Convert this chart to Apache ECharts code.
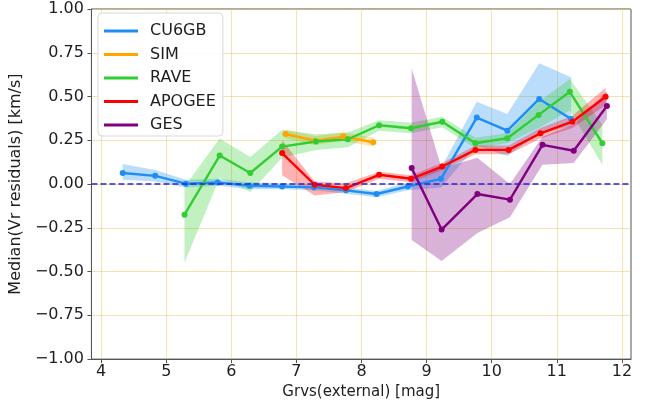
<!DOCTYPE html>
<html>
<head>
<meta charset="utf-8">
<script src="https://cdn.jsdelivr.net/npm/echarts@6/dist/echarts.min.js"></script>
<style>
html,body{margin:0;padding:0;background:#fff;}
#chart{width:647px;height:405px;}
</style>
</head>
<body>
<div id="chart"></div>
<script>
// ---- data ----
var xTicks = [4, 5, 6, 7, 8, 9, 10, 11, 12];
var yTicks = [-1, -0.75, -0.5, -0.25, 0, 0.25, 0.5, 0.75, 1];

var cuX  = [4.33, 4.83, 5.30, 5.79, 6.28, 6.78, 7.27, 7.76, 8.23, 8.71, 9.22, 9.77, 10.24, 10.73, 11.22];
var cuY  = [0.063, 0.047, 0.002, 0.009, -0.010, -0.014, -0.019, -0.036, -0.057, -0.014, 0.030, 0.380, 0.305, 0.486, 0.372];
var cuLo = [0.025, 0.015, -0.020, -0.010, -0.030, -0.030, -0.035, -0.055, -0.075, -0.035, -0.020, 0.220, 0.160, 0.290, 0.330];
var cuHi = [0.115, 0.080, 0.025, 0.030, 0.010, 0.005, 0.000, -0.020, -0.040, 0.010, 0.090, 0.470, 0.400, 0.690, 0.610];

var simX  = [6.83, 7.29, 7.72, 8.18];
var simY  = [0.286, 0.248, 0.271, 0.239];
var simLo = [0.261, 0.223, 0.246, 0.214];
var simHi = [0.311, 0.273, 0.296, 0.264];

var raveX  = [5.28, 5.82, 6.29, 6.78, 7.30, 7.79, 8.27, 8.76, 9.24, 9.75, 10.24, 10.72, 11.20, 11.70];
var raveY  = [-0.175, 0.163, 0.063, 0.214, 0.243, 0.256, 0.336, 0.319, 0.356, 0.233, 0.262, 0.395, 0.527, 0.233];
var raveLo = [-0.450, 0.035, -0.045, 0.150, 0.195, 0.210, 0.305, 0.290, 0.325, 0.205, 0.235, 0.320, 0.420, 0.110];
var raveHi = [-0.015, 0.260, 0.155, 0.310, 0.285, 0.295, 0.365, 0.350, 0.385, 0.265, 0.290, 0.470, 0.600, 0.340];

var apoX  = [6.78, 7.28, 7.76, 8.27, 8.76, 9.24, 9.75, 10.26, 10.75, 11.24, 11.75];
var apoY  = [0.177, -0.004, -0.023, 0.053, 0.030, 0.100, 0.195, 0.195, 0.290, 0.356, 0.499];
var apoLo = [0.050, -0.065, -0.045, 0.030, 0.010, 0.080, 0.170, 0.170, 0.260, 0.320, 0.450];
var apoHi = [0.250, 0.015, 0.005, 0.070, 0.050, 0.120, 0.220, 0.220, 0.320, 0.390, 0.550];

var gesX  = [8.77, 9.23, 9.78, 10.28, 10.78, 11.26, 11.77];
var gesY  = [0.091, -0.260, -0.057, -0.089, 0.224, 0.190, 0.446];
var gesLo = [-0.320, -0.440, -0.280, -0.190, 0.110, 0.120, 0.370];
var gesHi = [0.660, 0.090, 0.150, 0.000, 0.270, 0.340, 0.530];

var names  = ['CU6GB', 'SIM', 'RAVE', 'APOGEE', 'GES'];
var colors = ['#1e8ef5', '#ffa500', '#32cd32', '#ff0000', '#800080'];
var bands  = ['rgba(30,142,245,0.3)', 'rgba(255,165,0,0.3)', 'rgba(50,205,50,0.3)', 'rgba(255,0,0,0.3)', 'rgba(128,0,128,0.3)'];

var sets = [
  [cuX, cuY, cuLo, cuHi],
  [simX, simY, simLo, simHi],
  [raveX, raveY, raveLo, raveHi],
  [apoX, apoY, apoLo, apoHi],
  [gesX, gesY, gesLo, gesHi]
];

function zip2(a, b) { return a.map(function (v, i) { return [v, b[i]]; }); }

var series = [];
sets.forEach(function (s, k) {
  var xs = s[0], lo = s[2], hi = s[3];
  series.push({
    type: 'custom',
    silent: true,
    z: 1,
    data: xs.map(function (x, i) { return [x, lo[i], hi[i]]; }),
    encode: { x: 0, y: [1, 2] },
    renderItem: function (params, api) {
      if (params.dataIndex !== 0) return null;
      var pts = [];
      for (var i = 0; i < xs.length; i++) pts.push(api.coord([xs[i], hi[i]]));
      for (var j = xs.length - 1; j >= 0; j--) pts.push(api.coord([xs[j], lo[j]]));
      return { type: 'polygon', shape: { points: pts }, style: { fill: bands[k] } };
    }
  });
});
sets.forEach(function (s, k) {
  var ser = {
    type: 'line',
    name: names[k],
    z: 3,
    data: zip2(s[0], s[1]),
    symbol: 'circle',
    symbolSize: 6,
    showSymbol: true,
    itemStyle: { color: colors[k] },
    lineStyle: { color: colors[k], width: 2.4 },
    emphasis: { disabled: true },
    animation: false
  };
  if (k === 4) {
    ser.markLine = {
      silent: true,
      symbol: 'none',
      label: { show: false },
      lineStyle: { color: '#2424d8', type: [6, 3], width: 1.5 },
      data: [{ yAxis: 0 }],
      animation: false
    };
  }
  series.push(ser);
});

var gridColor = 'rgba(240,195,100,0.5)';
var axisColor = '#555';
var txtColor = '#1e1e1e';
var chart = echarts.init(document.getElementById('chart'), null, { renderer: 'canvas' });
chart.setOption({
  animation: false,
  backgroundColor: '#fff',
  textStyle: { fontFamily: 'DejaVu Sans' },
  grid: { left: 91, right: 16, top: 9, bottom: 44, show: true, borderColor: axisColor, borderWidth: 1, backgroundColor: 'transparent' },
  legend: {
    data: names.map(function (n) { return { name: n, icon: 'rect' }; }),
    orient: 'vertical',
    left: 98, top: 13,
    itemWidth: 34, itemHeight: 3,
    itemGap: 7.5,
    padding: [10, 7, 3, 6],
    backgroundColor: 'rgba(255,255,255,0.85)',
    borderColor: '#d8d8d8', borderWidth: 1, borderRadius: 4,
    textStyle: { fontFamily: 'DejaVu Sans', fontSize: 16, color: txtColor, padding: [0, 0, 0, 7] },
    selectedMode: false
  },
  xAxis: {
    type: 'value', min: 3.85, max: 12.14,
    name: 'Grvs(external) [mag]', nameLocation: 'middle', nameGap: 20,
    nameTextStyle: { fontFamily: 'DejaVu Sans', fontSize: 15, color: txtColor },
    axisLine: { show: true, onZero: false, lineStyle: { color: axisColor } },
    axisTick: { show: true, inside: false, length: 4, lineStyle: { color: axisColor }, customValues: xTicks },
    axisLabel: { fontFamily: 'DejaVu Sans', fontSize: 16, color: txtColor, margin: 5, customValues: xTicks },
    splitLine: { show: true, lineStyle: { color: gridColor, width: 1 } }
  },
  yAxis: {
    type: 'value', min: -1, max: 1, interval: 0.25,
    name: 'Median(Vr residuals) [km/s]', nameLocation: 'middle', nameGap: 59, nameRotate: 90,
    nameTextStyle: { fontFamily: 'DejaVu Sans', fontSize: 16, color: txtColor },
    axisLine: { show: true, onZero: false, lineStyle: { color: axisColor } },
    axisTick: { show: true, inside: false, length: 4, lineStyle: { color: axisColor } },
    axisLabel: {
      fontFamily: 'DejaVu Sans', fontSize: 16, color: txtColor, margin: 7.5,
      formatter: function (v) { return (v < 0 ? '\u2212' : '') + Math.abs(v).toFixed(2); }
    },
    splitLine: { show: true, lineStyle: { color: gridColor, width: 1 } }
  },
  series: series
});
</script>
</body>
</html>
